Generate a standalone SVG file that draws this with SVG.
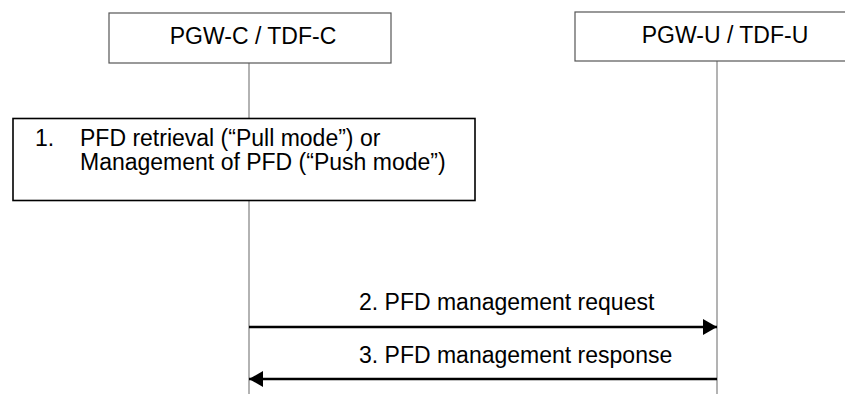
<svg xmlns="http://www.w3.org/2000/svg" width="845" height="394" viewBox="0 0 845 394">
<style>
text{font-family:"Liberation Sans",Arial,sans-serif;fill:#000;font-size:23px}
.hdr{text-anchor:middle}
.life{stroke:#808080;stroke-width:1.2;fill:none}
.ent{fill:#fff;stroke:#555;stroke-width:1.2}
.arr{stroke:#000;stroke-width:2.5;fill:none}
</style>
<defs>
<marker id="ah" viewBox="0 0 14 16" refX="14" refY="8" markerWidth="14" markerHeight="16" markerUnits="userSpaceOnUse" orient="auto">
<path d="M0,0 L14,8 L0,16 Z" fill="#000"/>
</marker>
</defs>
<g id="lifelines">
<line class="life" x1="249" y1="63" x2="249" y2="394"/>
<line class="life" x1="717" y1="61" x2="717" y2="394"/>
</g>
<g id="pgw-c">
<rect class="ent" x="109" y="13" width="282" height="50"/>
<text class="hdr" x="253" y="44">PGW-C / TDF-C</text>
</g>
<g id="pgw-u">
<rect class="ent" x="575" y="12" width="290" height="49"/>
<text class="hdr" x="725" y="43">PGW-U / TDF-U</text>
</g>
<g id="step1">
<rect x="13" y="118.5" width="462" height="82" fill="#fff" stroke="#000" stroke-width="1.6"/>
<text x="35" y="146">1.</text>
<text x="80" y="146">PFD retrieval (“Pull mode”) or</text>
<text x="80" y="170">Management of PFD (“Push mode”)</text>
</g>
<g id="connectors">
<line class="arr" x1="249" y1="327" x2="717" y2="327" marker-end="url(#ah)"/>
<text x="359" y="310">2. PFD management request</text>
<line class="arr" x1="717" y1="379" x2="249" y2="379" marker-end="url(#ah)"/>
<text x="359" y="363">3. PFD management response</text>
</g>
</svg>
